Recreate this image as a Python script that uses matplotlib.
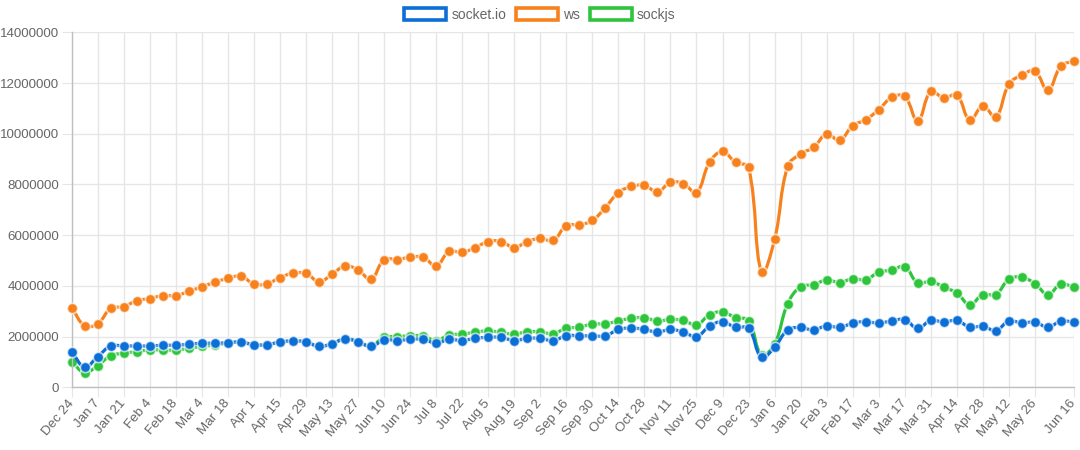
import numpy as np
import pandas as pd
import matplotlib
matplotlib.use("Agg")
from matplotlib import pyplot as plt
from matplotlib.path import Path
from matplotlib.patches import PathPatch, Patch
from matplotlib.transforms import ScaledTranslation

# weekly downloads (millions)
weeks = pd.date_range("2017-12-24", periods=78, freq="7D")
week_labels = [f"{d:%b} {d.day}" for d in weeks]

socket_io = [1.41, 0.80, 1.21, 1.63, 1.63, 1.63, 1.63, 1.66, 1.66, 1.70, 1.74, 1.74, 1.76,
             1.79, 1.68, 1.68, 1.79, 1.83, 1.79, 1.61, 1.72, 1.91, 1.79, 1.61, 1.87, 1.84,
             1.89, 1.89, 1.74, 1.89, 1.84, 1.93, 1.97, 1.97, 1.84, 1.93, 1.93, 1.84, 2.04,
             2.03, 2.03, 2.03, 2.28, 2.34, 2.28, 2.18, 2.28, 2.18, 2.00, 2.41, 2.59, 2.36,
             2.33, 1.18, 1.58, 2.26, 2.36, 2.26, 2.43, 2.36, 2.53, 2.59, 2.53, 2.62, 2.67,
             2.32, 2.64, 2.57, 2.64, 2.37, 2.41, 2.24, 2.61, 2.54, 2.57, 2.37, 2.61, 2.57]

ws = [3.14, 2.43, 2.51, 3.11, 3.18, 3.42, 3.50, 3.62, 3.62, 3.78, 3.97, 4.14, 4.30,
      4.38, 4.08, 4.08, 4.33, 4.50, 4.49, 4.17, 4.45, 4.79, 4.63, 4.26, 5.04, 5.04,
      5.13, 5.13, 4.79, 5.36, 5.32, 5.51, 5.75, 5.75, 5.51, 5.75, 5.87, 5.79, 6.38,
      6.41, 6.58, 7.09, 7.68, 7.92, 7.96, 7.71, 8.08, 8.03, 7.68, 8.87, 9.30, 8.87,
      8.67, 4.53, 5.83, 8.71, 9.21, 9.46, 9.99, 9.74, 10.32, 10.55, 10.95, 11.43, 11.47,
      10.50, 11.67, 11.41, 11.53, 10.54, 11.09, 10.66, 11.95, 12.32, 12.47, 11.71, 12.67, 12.87]

sockjs = [1.01, 0.58, 0.86, 1.25, 1.34, 1.41, 1.47, 1.47, 1.47, 1.54, 1.61, 1.67, 1.74,
          1.78, 1.67, 1.67, 1.78, 1.82, 1.79, 1.62, 1.72, 1.92, 1.80, 1.64, 1.97, 2.00,
          2.03, 2.03, 1.84, 2.07, 2.09, 2.18, 2.22, 2.17, 2.09, 2.20, 2.18, 2.12, 2.33,
          2.37, 2.50, 2.50, 2.62, 2.72, 2.75, 2.61, 2.68, 2.64, 2.46, 2.86, 2.97, 2.75,
          2.63, 1.28, 1.71, 3.29, 3.97, 4.04, 4.24, 4.13, 4.29, 4.24, 4.54, 4.62, 4.76,
          4.11, 4.18, 3.95, 3.72, 3.26, 3.66, 3.66, 4.26, 4.34, 4.09, 3.66, 4.07, 3.95]

series = [
    ("socket.io", socket_io, "#0b6fd6", 4),
    ("ws", ws, "#f7821d", 3),
    ("sockjs", sockjs, "#2ec53d", 2),
]


def spline_path(ax, x, y, tension=0.4):
    # chart.js style bezier, control points computed in pixel space
    pts = ax.transData.transform(np.column_stack([x, y]))
    n = len(pts)
    cps = []
    for i in range(n):
        cur = pts[i]
        prev = pts[i - 1] if i > 0 else cur
        nxt = pts[i + 1] if i < n - 1 else cur
        d01 = np.hypot(*(cur - prev))
        d12 = np.hypot(*(nxt - cur))
        tot = d01 + d12
        s01 = d01 / tot if tot else 0
        s12 = d12 / tot if tot else 0
        cps.append((cur - tension * s01 * (nxt - prev), cur + tension * s12 * (nxt - prev)))
    verts = [pts[0]]
    codes = [Path.MOVETO]
    for i in range(1, n):
        verts += [cps[i - 1][1], cps[i][0], pts[i]]
        codes += [Path.CURVE4] * 3
    verts = ax.transData.inverted().transform(np.array(verts))
    return Path(verts, codes)


fig = plt.figure(figsize=(10.8, 4.5), dpi=100)
ax = fig.add_axes([0.0664, 0.1393, 0.928, 0.7889])
x = np.arange(len(week_labels))
ax.set_xlim(0, len(x) - 1)
ax.set_ylim(0, 14000000)

for name, vals, color, z in series:
    y = np.array(vals) * 1e6
    p = spline_path(ax, x, y)
    ax.add_patch(PathPatch(p, facecolor="none", edgecolor=color, lw=2.3, zorder=z, clip_on=False))
    ax.plot(x, y, ls="none", marker="o", ms=7.4, mfc=color, mec=(1, 1, 1, 0.65), mew=1.2,
            zorder=z + 0.1, clip_on=False)

xt = list(range(0, 75, 2)) + [77]
ax.set_xticks(xt)
ax.set_xticklabels([week_labels[i] for i in xt], rotation=50, ha="right", va="center",
                   rotation_mode="anchor")
shift = ScaledTranslation(-4 / 100, 0, fig.dpi_scale_trans)
for lab in ax.get_xticklabels():
    lab.set_transform(lab.get_transform() + shift)
yt = np.arange(0, 14000001, 2000000)
ax.set_yticks(yt)
ax.set_yticklabels([str(int(v)) for v in yt])

ax.grid(True, color="#e6e6e6", lw=1)
ax.set_axisbelow(True)
for s in ["top", "right"]:
    ax.spines[s].set_visible(False)
for s in ["left", "bottom"]:
    ax.spines[s].set_color("#bfbfbf")
    ax.spines[s].set_linewidth(1)
ax.tick_params(axis="both", colors="#e6e6e6", length=7, labelcolor="#666666", labelsize=9.6,
               labelfontfamily="Liberation Sans")
ax.tick_params(axis="x", pad=3)
ax.tick_params(axis="y", pad=2)

handles = [Patch(facecolor="white", edgecolor=c, lw=2.6, label=n) for n, _, c, _ in series]
fig.legend(handles=handles, loc="upper center", bbox_to_anchor=(0.5, 1.01), ncol=3,
           frameon=False, handlelength=3.0, handleheight=0.95, handletextpad=0.4,
           columnspacing=0.7, prop={"family": "Liberation Sans", "size": 10},
           labelcolor="#666666")

plt.savefig("out.png", dpi=100, facecolor="white")
